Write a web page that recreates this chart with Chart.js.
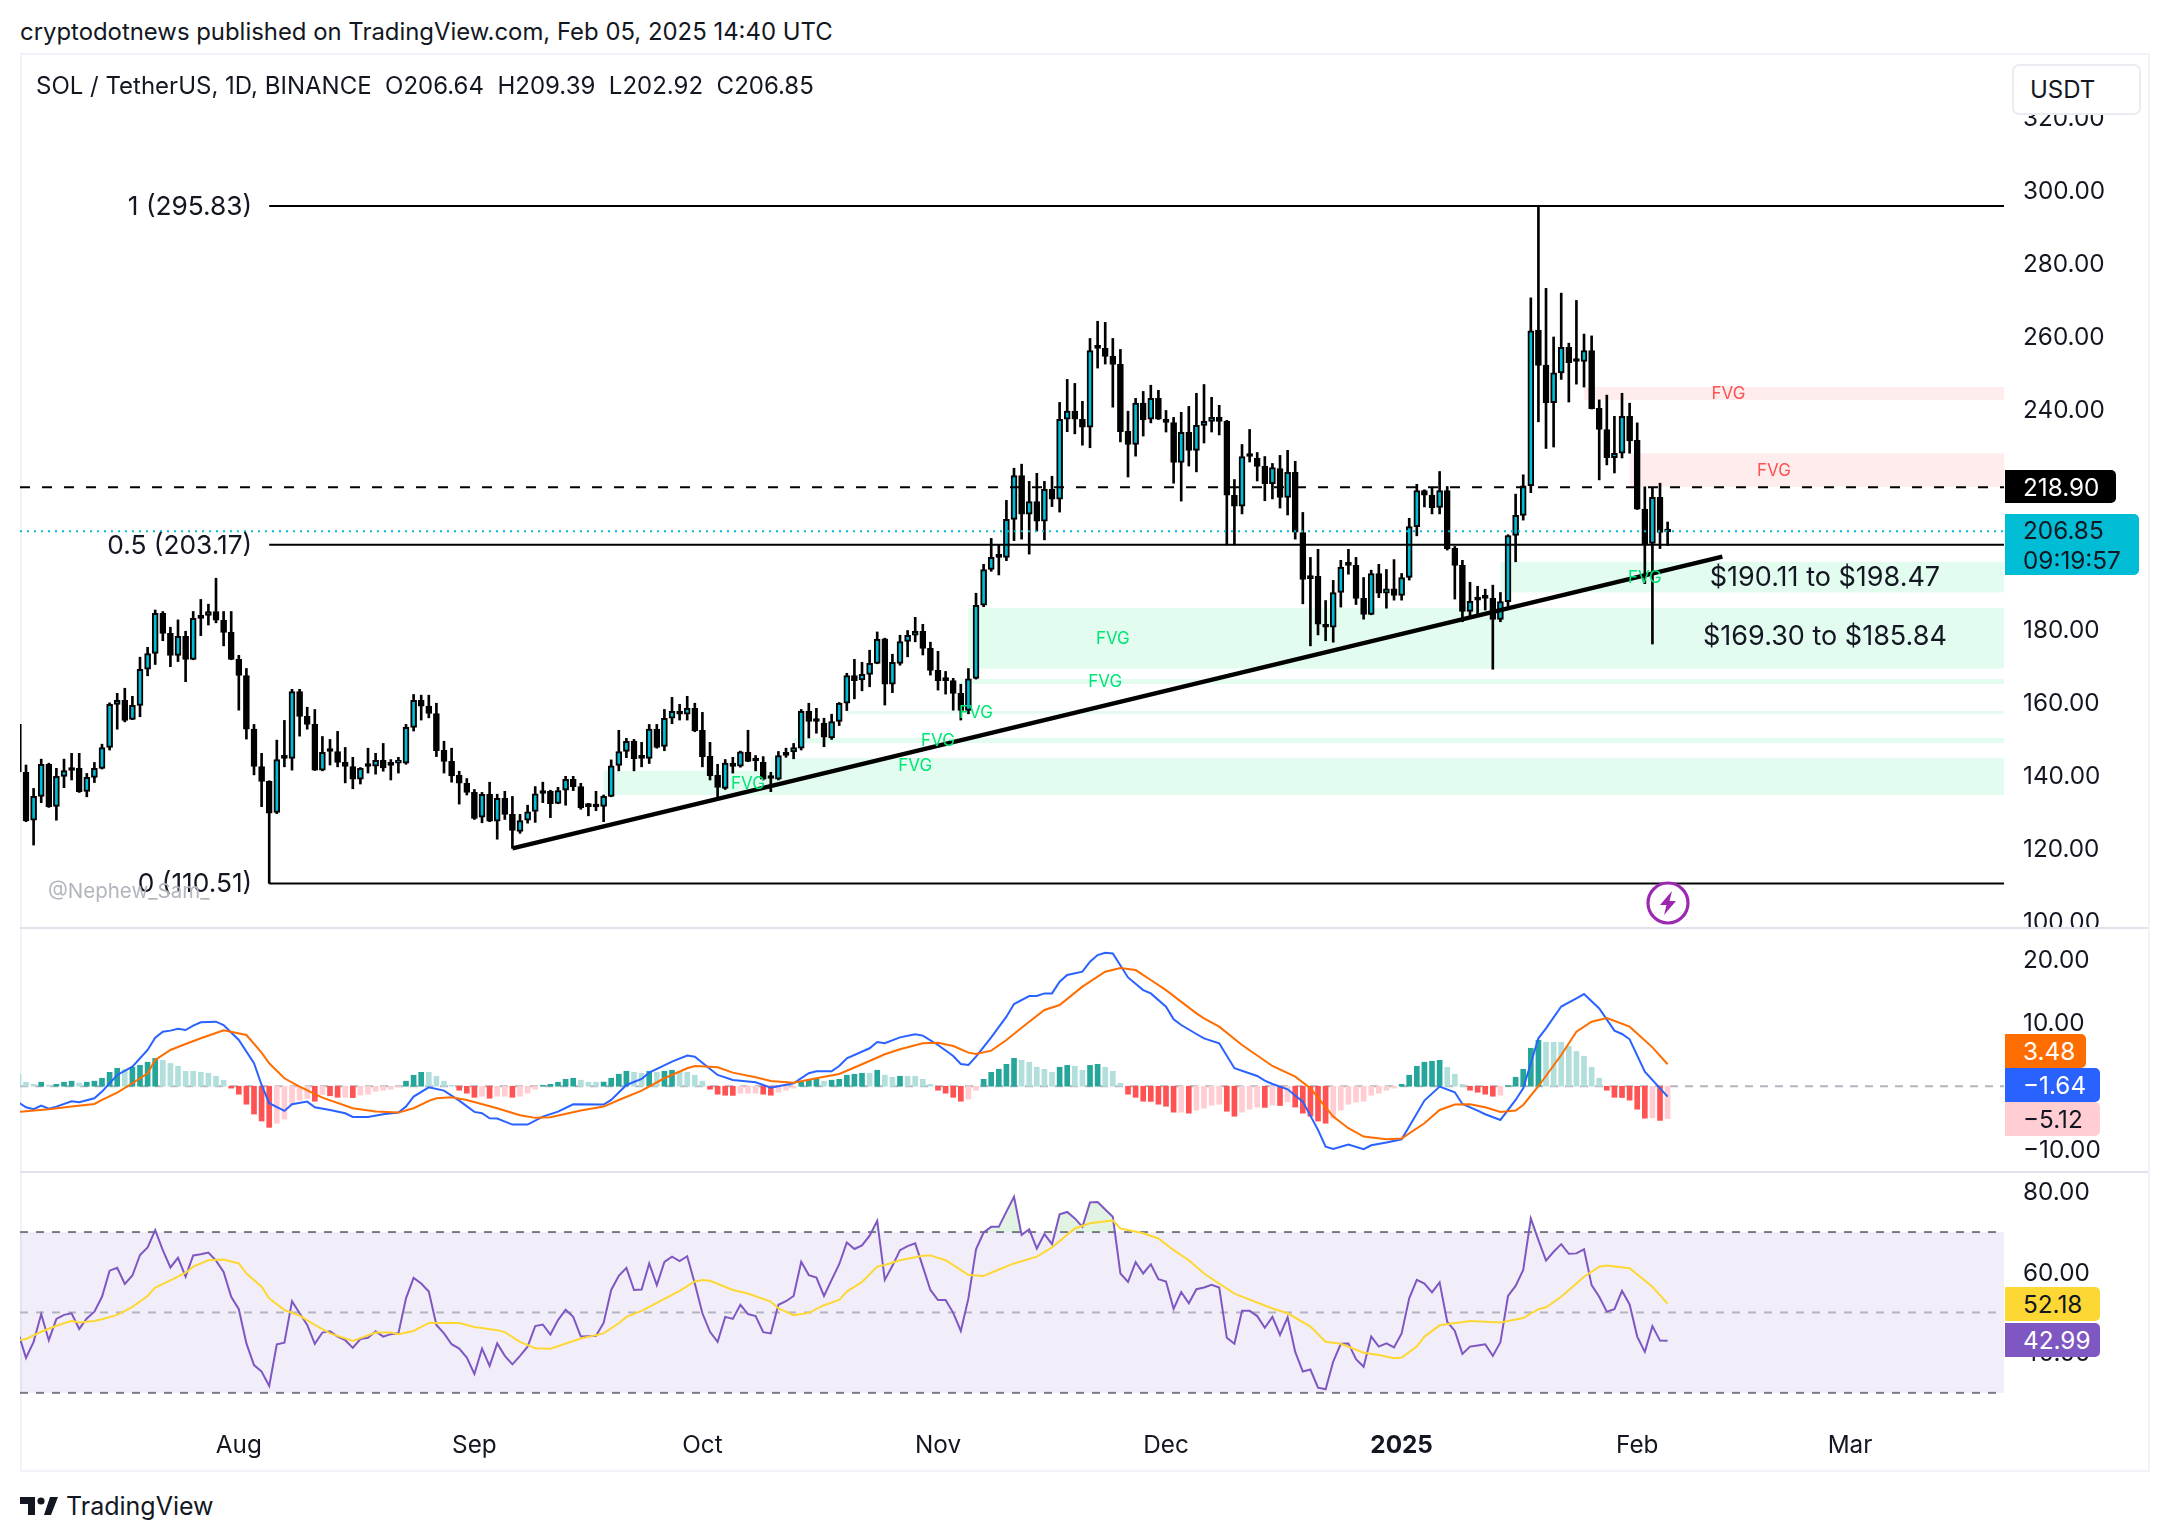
<!DOCTYPE html>
<html>
<head>
<meta charset="utf-8">
<title>SOL / TetherUS</title>
<script src="https://cdn.jsdelivr.net/npm/chart.js@4/dist/chart.umd.min.js"></script>
<style>
  html, body { margin: 0; background: #fff; }
  body { position: relative; width: 2168px; height: 1540px; overflow: hidden; font-family: Inter, sans-serif; color: #131722; }
  canvas { position: absolute; left: 20px; }
  .abs { position: absolute; white-space: pre; }
  .frame { position: absolute; left: 20px; top: 53px; width: 2126px; height: 1415px; border: 2px solid #F0F3FA; }
  .sep { position: absolute; left: 20px; width: 2128px; height: 2px; background: #E0E3EB; }
  .tag { position: absolute; left: 2005px; box-sizing: border-box; padding-left: 18px; font-size: 24.3px; border-radius: 0 5px 5px 0; display: flex; align-items: center; }
</style>
</head>
<body>
<div class="frame"></div>
<div class="sep" style="top:927px"></div>
<div class="sep" style="top:1171px"></div>
<canvas id="priceChart" width="2128" height="872" style="top:55px"></canvas>
<canvas id="macdChart" width="2128" height="241" style="top:930px"></canvas>
<canvas id="rsiChart" width="2128" height="297" style="top:1173px"></canvas>

<div class="abs" style="left:20px;top:17px;font-size:23.9px">cryptodotnews published on TradingView.com, Feb 05, 2025 14:40 UTC</div>
<div class="abs" style="left:36px;top:71px;font-size:24px">SOL / TetherUS, 1D, BINANCE  O206.64  H209.39  L202.92  C206.85</div>
<div class="abs" style="left:48px;top:878px;font-size:20.5px;color:#B2B5BE">@Nephew_Sam_</div>

<div class="abs" style="left:2012px;top:64px;width:125px;height:47px;background:#fff;border:2px solid #E9ECF2;border-radius:7px;font-size:24px;line-height:47px;text-indent:16px">USDT</div>
<div class="tag" style="top:470px;width:111px;height:33px;background:#000;color:#fff">218.90</div>
<div class="tag" style="top:514px;width:134px;height:61px;background:#00BCD4;display:block;line-height:30px;padding-top:1px">206.85<br>09:19:57</div>
<div class="tag" style="top:1034px;width:81px;height:34px;background:#FF6D00;color:#fff">3.48</div>
<div class="tag" style="top:1068px;width:95px;height:34px;background:#2962FF;color:#fff">−1.64</div>
<div class="tag" style="top:1102px;width:95px;height:34px;background:#FFCDD2">−5.12</div>
<div class="tag" style="top:1287px;width:95px;height:34px;background:#FDD835">52.18</div>
<div class="tag" style="top:1323px;width:95px;height:34px;background:#7E57C2;color:#fff">42.99</div>

<svg class="abs" style="left:1646px;top:881px" width="44" height="44" viewBox="0 0 44 44">
  <circle cx="22" cy="22" r="20" fill="#fff" stroke="#9C27B0" stroke-width="3.2"/>
  <path d="M26 10 L14 24 H20.5 L18 34 L30 20 H23.5 Z" fill="#9C27B0"/>
</svg>
<svg class="abs" style="left:20px;top:1496px" width="38" height="20" viewBox="0 0 38 20">
  <path d="M0 1 H15 V19 H8 V8 H0 Z M24 19 L30 1 H38 L31 19 Z" fill="#131722"/>
  <circle cx="21" cy="5" r="3.6" fill="#131722"/>
</svg>
<div class="abs" style="left:66px;top:1491px;font-size:25px">TradingView</div>

<script>
// Daily candles, Jul 3 2024 to Feb 5 2025 (index 0 = Jul 3)
const opens = [154.0,140.9,127.8,134.3,143.1,131.6,139.8,142.0,142.0,135.7,139.5,142.0,147.7,159.5,160.6,155.4,159.2,169.1,173.4,184.4,178.9,172.9,178.1,171.8,183.8,183.8,184.9,182.5,179.2,171.8,167.4,152.7,142.5,138.4,129.9,145.0,144.7,163.0,156.2,154.0,141.5,146.9,146.6,143.6,142.5,139.0,142.8,142.6,144.2,143.1,143.4,143.4,153.2,160.6,159.0,157.0,146.9,143.9,140.1,137.9,135.4,128.6,134.9,127.5,133.8,129.4,124.7,127.8,130.2,135.6,135.7,132.4,136.0,139.0,137.0,131.8,131.7,131.6,134.3,142.8,146.6,149.4,145.0,144.7,152.7,148.0,155.7,157.6,156.8,158.4,152.4,145.3,140.1,136.5,143.4,142.6,146.4,144.4,143.6,139.5,139.0,146.4,146.5,147.5,157.6,155.1,154.3,150.3,154.8,159.8,167.4,166.2,167.7,170.7,177.4,165.0,170.7,176.7,178.4,179.5,174.8,168.8,166.3,166.0,162.5,157.8,166.6,186.6,196.4,200.0,199.7,210.1,222.1,211.5,215.0,209.6,218.3,215.6,237.5,239.7,237.5,235.3,257.2,256.9,254.7,252.5,234.2,230.6,241.9,237.5,243.2,237.5,236.6,225.7,233.9,229.0,235.8,236.9,238.0,236.9,216.7,213.7,227.6,226.8,224.6,219.9,224.0,216.1,223.0,206.5,194.4,194.5,181.4,180.6,190.1,197.8,197.5,188.5,184.1,195.3,189.9,191.1,189.3,194.2,208.1,218.0,216.7,213.4,218.0,202.2,197.5,184.9,188.2,188.8,188.5,182.7,187.6,205.7,211.2,219.3,261.9,252.3,242.0,250.2,257.2,253.6,253.3,256.3,240.5,234.7,227.0,228.2,238.3,231.7,212.9,203.5,216.1,206.64];
const closes = [141.0,127.6,134.3,143.1,131.5,139.8,141.4,141.4,135.6,139.5,142.0,147.7,159.5,160.6,155.1,159.2,169.1,173.4,184.4,178.9,172.9,178.1,171.8,183.0,183.0,184.9,182.5,179.2,171.8,167.4,152.7,142.5,138.4,129.7,144.4,144.7,163.0,156.2,154.0,141.5,146.4,146.6,143.6,142.5,139.0,142.0,142.5,144.2,142.1,142.8,143.6,153.2,160.6,159.0,157.0,146.8,143.9,139.9,137.9,135.4,128.3,134.9,127.5,133.8,129.4,125.0,127.7,130.1,135.0,135.1,132.3,135.9,139.0,137.0,131.2,131.5,131.4,134.3,142.7,146.6,149.4,144.6,144.7,152.7,147.7,155.7,157.6,156.8,158.4,152.3,145.1,140.0,136.8,143.4,142.5,146.5,143.9,144.0,139.0,139.2,145.5,145.5,147.7,157.6,154.8,154.8,150.5,154.8,159.8,167.4,166.0,167.7,170.7,177.3,165.0,171.0,176.7,178.4,179.5,174.8,168.8,166.0,166.0,162.5,157.8,166.5,186.6,196.4,199.7,199.7,210.1,222.1,211.5,215.0,209.6,218.3,215.6,237.5,239.7,237.5,235.3,256.3,256.9,254.7,252.5,234.1,230.6,241.9,237.3,243.2,237.5,236.6,225.7,233.9,229.0,235.8,236.9,238.0,236.9,216.7,213.7,227.3,227.3,224.6,219.9,224.3,216.1,223.0,206.6,193.7,193.9,181.4,180.6,190.1,197.0,197.5,188.5,184.1,195.3,189.9,191.1,189.3,194.2,208.1,218.0,216.7,213.3,218.0,202.1,197.5,184.9,187.7,188.0,188.5,182.7,187.6,205.7,211.2,219.3,261.7,252.2,242.0,250.2,257.2,253.0,253.3,256.3,240.4,234.7,227.0,228.2,238.3,231.6,212.9,203.2,216.1,206.5,206.85];
const highs = [154.1,142.9,136.5,144.5,143.4,142.0,144.5,146.1,146.1,140.6,143.6,148.6,159.9,162.5,163.9,161.7,172.4,175.1,185.3,184.9,180.6,182.6,179.5,184.9,188.2,186.9,194.0,184.9,184.9,172.9,169.3,154.0,146.1,138.6,149.7,155.1,163.6,163.6,158.7,158.1,150.7,149.9,152.1,147.7,145.0,142.2,147.5,146.1,148.8,144.4,145.0,154.0,162.2,162.0,162.0,159.8,149.4,147.5,141.2,139.2,136.2,135.4,138.2,134.9,135.7,134.3,129.4,131.9,137.0,138.2,136.0,136.8,139.8,139.8,137.9,132.4,135.7,134.7,144.3,152.4,150.2,149.9,149.1,154.0,154.0,158.1,161.4,159.5,161.7,159.8,157.3,149.1,143.1,144.4,145.0,146.7,152.4,145.5,145.2,140.9,146.6,147.5,148.8,158.1,159.8,158.4,155.7,156.8,160.0,168.0,171.8,171.0,174.3,179.3,177.6,173.2,178.4,179.7,183.3,181.4,176.5,174.0,168.5,166.6,165.0,169.3,189.9,197.8,204.9,203.0,215.3,224.1,225.2,220.5,222.7,220.5,221.9,242.1,248.4,247.3,242.4,259.6,264.3,264.0,259.6,256.6,239.7,243.2,245.1,246.8,245.4,239.9,238.0,239.4,241.0,244.6,247.0,243.5,241.3,237.2,221.0,230.6,234.7,228.4,227.3,225.4,227.6,229.0,226.0,212.0,199.7,201.9,187.9,193.4,198.9,201.9,199.7,194.2,196.2,197.8,196.4,199.1,195.3,210.4,219.7,218.2,218.9,223.2,219.1,202.7,198.9,192.9,191.8,191.0,192.1,190.1,205.9,217.0,222.3,270.7,295.83,273.3,260.0,272.0,258.3,270.0,260.8,260.3,242.8,244.1,238.3,244.6,241.9,236.5,219.0,218.8,220.0,209.39];
const lows = [140.9,127.4,121.0,132.6,131.3,127.8,136.7,138.8,135.4,134.2,138.1,141.8,147.0,152.7,154.7,155.3,156.1,167.3,170.4,176.9,169.8,171.2,165.7,171.7,178.3,181.2,181.8,175.5,171.7,157.9,150.0,140.2,131.5,110.51,129.6,142.4,141.5,150.8,152.7,141.4,141.3,142.9,142.4,138.0,136.4,137.7,140.7,140.4,141.2,138.8,140.7,143.1,152.2,155.2,155.8,145.2,140.7,138.2,132.2,134.7,128.0,127.1,127.4,122.6,128.0,120.1,124.2,127.0,127.2,132.6,128.5,132.3,131.9,135.9,130.8,129.0,130.4,127.4,134.2,141.3,144.9,141.3,142.4,143.3,147.5,146.8,154.2,155.2,155.2,152.0,142.4,138.8,134.0,136.2,140.7,142.3,143.8,141.3,138.8,135.6,138.8,145.0,144.6,147.0,150.3,151.6,147.9,149.9,153.7,157.8,161.0,163.2,164.3,170.6,159.3,162.7,170.2,172.5,176.6,173.0,167.5,163.4,162.3,157.9,155.2,156.9,166.4,186.2,195.9,194.9,198.8,204.3,204.7,200.6,206.9,204.5,213.6,212.1,234.1,233.5,230.4,229.7,251.5,252.6,240.8,231.3,221.7,227.4,232.9,236.5,237.4,234.0,220.0,215.1,224.7,223.1,231.0,234.0,233.2,203.1,203.1,211.6,225.8,220.6,215.2,215.7,213.2,211.3,204.7,187.0,175.5,178.5,176.9,176.5,186.1,195.1,186.8,182.8,184.0,188.7,185.8,188.0,188.0,193.5,205.6,213.5,211.6,211.6,201.7,188.3,182.1,183.5,184.1,185.3,169.1,182.1,186.2,198.5,209.9,217.4,236.8,229.5,229.9,248.4,242.2,247.1,246.3,240.3,220.9,225.0,222.8,226.9,228.2,212.8,192.5,176.0,202.1,202.92];

// MACD histogram, one value per day
const macdHist = [1.9,0.63,0.3,0.63,0.2,0.3,0.63,0.8,0.5,0.63,0.8,1.26,2.2,2.84,2.63,3.0,3.3,3.8,4.4,4.1,3.6,3.16,2.37,2.37,2.2,2.05,1.58,0.95,-0.3,-1.26,-2.84,-4.4,-5.5,-6.5,-5.85,-5.2,-2.9,-2.2,-1.95,-2.37,-1.3,-1.5,-1.75,-1.75,-1.8,-1.4,-1.26,-0.8,-0.63,-0.47,-0.1,0.8,1.74,2.2,2.2,1.58,0.8,0.15,-0.63,-1.1,-1.75,-1.58,-1.9,-1.58,-1.58,-1.75,-1.58,-1.1,-0.47,0.15,0.3,0.63,1.1,1.26,0.95,0.63,0.63,0.65,1.26,1.9,2.37,2.2,2.05,2.37,2.2,2.37,2.53,2.37,2.2,1.74,0.8,-0.47,-1.26,-1.42,-1.45,-1.1,-1.1,-1.1,-1.26,-1.42,-0.95,-0.63,-0.3,0.63,0.95,1.1,0.8,0.95,1.1,1.74,1.9,2.05,2.05,2.53,1.74,1.42,1.58,1.58,1.58,1.1,0.3,-0.63,-1.1,-1.75,-2.37,-2.05,-0.63,1.1,2.2,2.68,3.47,4.42,4.1,3.8,3.0,2.68,2.2,3.0,3.3,3.16,2.53,3.3,3.47,3.0,2.37,0.47,-1.26,-1.75,-2.37,-2.4,-2.84,-3.16,-4.1,-4.1,-4.26,-3.8,-3.47,-3.0,-2.84,-3.95,-4.74,-4.1,-3.63,-3.3,-3.35,-3.0,-3.05,-2.5,-3.3,-4.26,-4.74,-5.5,-5.85,-5.05,-3.8,-2.84,-2.5,-2.37,-1.42,-1.1,-0.63,-0.3,0.3,1.74,3.16,3.8,3.95,4.1,3.0,1.9,0.3,-0.63,-0.95,-1.26,-1.58,-1.42,0.1,1.42,2.68,6.0,7.27,6.95,6.95,6.95,6.3,5.5,4.74,3.0,1.26,-0.63,-1.75,-1.78,-2.2,-3.63,-5.05,-5.0,-5.4,-5.12];

// MACD and signal lines, read at their turning points
const macdDays = [0,1,2,3,4,5,7,8,10,11,13,15,17,18,19,20,21,22,23,24,26,27,29,31,32,33,35,36,38,39,41,43,44,46,48,50,51,52,54,56,58,60,61,62,63,65,67,69,71,73,77,78,80,82,83,86,88,89,92,94,97,99,102,104,105,107,108,109,112,113,114,116,118,119,121,123,124,125,126,128,130,131,133,134,135,136,137,138,140,141,142,143,144,146,148,149,151,152,153,155,156,158,160,163,164,165,167,169,171,172,173,175,177,178,180,182,183,185,187,189,190,192,193,195,197,198,200,201,203,205,206,208,210,211,212,214,217];
const macdLine = [-2.54,-3.33,-3.64,-3.06,-3.54,-3.22,-2.38,-2.54,-1.9,-0.85,1.78,3.1,5.73,7.68,8.63,8.79,9.1,8.89,9.58,10.1,10.21,9.68,7.31,3.63,0.2,-2.69,-3.9,-2.85,-2.43,-3.33,-3.75,-4.27,-4.85,-4.85,-4.43,-4.17,-3.22,-1.64,-0.17,-0.69,-2.27,-4.06,-4.27,-5.06,-5.11,-6.06,-6.06,-4.8,-4.01,-2.85,-2.9,-2.17,0.2,1.15,2.15,3.89,4.84,4.68,1.78,1.0,0.62,-0.22,0.47,2.05,2.36,2.36,3.2,4.42,6.0,7.0,6.79,7.73,8.2,8.0,6.52,4.78,3.52,3.36,4.68,7.73,11.0,13.0,14.26,14.26,14.68,14.68,16.53,17.58,18.11,19.69,20.74,21.11,21.0,17.2,15.2,14.68,12.58,10.58,9.68,8.26,7.57,6.78,2.84,1.62,0.89,0.36,-0.48,-2.43,-6.9,-9.54,-9.9,-9.22,-9.96,-9.33,-8.9,-8.38,-6.38,-2.27,-0.06,-0.96,-2.8,-3.85,-4.43,-5.33,-2.17,-0.32,7.58,9.16,12.6,13.9,14.58,12.3,8.79,8.26,7.42,2.31,-1.64];
const signalDays = [0,4,7,10,11,13,15,17,18,20,22,24,26,27,30,32,33,35,37,40,44,47,50,52,54,55,57,59,63,66,68,70,74,77,79,82,85,88,89,91,92,94,97,99,102,105,108,111,114,116,119,121,123,125,126,128,130,133,135,137,140,143,145,147,149,151,155,156,158,161,165,168,170,173,175,177,180,182,185,187,189,191,193,195,197,198,200,203,205,207,209,212,215,217];
const signalLine = [-4.06,-3.64,-3.22,-2.8,-2.17,-1.0,0.47,2.05,4.15,5.73,6.68,7.58,8.42,8.84,8.1,5.31,3.63,1.26,-0.06,-1.8,-3.48,-4.0,-4.17,-3.48,-2.32,-1.9,-1.74,-2.17,-3.48,-4.59,-5.0,-4.9,-3.85,-3.22,-2.17,-0.69,1.26,2.84,3.2,3.1,3.0,2.15,1.42,0.83,0.57,1.26,1.94,3.47,5.05,5.84,6.78,6.89,6.36,5.31,5.1,5.63,7.31,10.2,12.05,12.84,15.74,18.1,18.69,18.37,16.8,15.2,11.52,10.73,9.42,6.52,3.2,1.52,-0.32,-4.8,-6.64,-7.96,-8.38,-8.27,-5.85,-3.75,-2.9,-2.85,-3.33,-4.06,-3.85,-2.96,0.0,4.94,8.63,10.2,10.79,9.42,6.15,3.48];

// RSI, one value per day, and its moving average read at turning points
const rsiValues = [44.8,38.7,42.7,49.6,43.1,48.4,49.4,49.8,45.9,48.5,50.2,53.9,60.4,61.1,57.1,59.2,64.3,66.2,70.5,65.5,61.2,63.6,58.9,64.2,64.5,64.9,62.9,60.1,53.9,50.8,42.3,36.9,35.3,31.7,42.1,42.5,52.8,49.8,46.9,42.2,45.0,45.3,44.0,43.1,41.2,43.4,43.7,45.3,44.0,44.6,44.8,53.5,58.6,57.2,55.2,46.9,44.8,42.1,41.0,38.8,34.7,41.0,36.7,42.3,39.2,37.1,39.2,41.5,46.6,47.0,44.5,48.1,50.7,48.9,44.0,44.1,44.2,47.4,55.6,59.1,61.1,55.6,55.7,62.2,56.8,62.6,63.9,62.8,64.0,57.2,49.8,45.2,42.7,48.9,48.4,51.9,49.6,49.1,45.1,44.8,51.9,52.8,54.1,62.6,59.3,58.7,54.1,58.1,62.0,67.4,65.8,66.7,69.1,72.8,58.1,61.6,65.5,66.5,67.2,61.4,55.6,53.1,53.1,49.9,45.4,53.5,65.7,69.9,71.3,71.3,75.1,78.8,69.3,70.7,65.9,69.5,67.0,74.4,75.0,73.4,71.3,77.4,77.5,75.6,73.8,59.7,57.6,62.5,59.7,62.0,58.3,57.7,50.9,55.1,52.3,55.8,56.2,56.9,56.2,43.7,42.2,50.4,50.4,49.1,46.2,48.9,44.4,48.8,40.2,35.3,35.8,31.3,30.9,37.8,42.2,42.3,38.4,36.5,44.0,41.5,42.3,41.3,44.8,53.5,58.1,57.2,55.0,57.5,47.7,45.4,39.7,41.5,41.8,42.1,39.2,42.6,54.1,56.6,60.6,73.4,68.0,62.9,65.1,67.0,64.6,64.7,65.7,56.8,53.9,50.2,50.8,55.4,52.0,44.0,40.2,46.6,43.0,42.99];
const rsiMaDays = [0,1,3,5,7,8,10,11,13,15,17,18,20,22,23,25,27,29,30,32,33,35,37,39,41,44,45,47,49,50,52,54,58,60,63,64,66,68,70,74,77,79,80,82,84,87,89,90,91,94,96,99,100,102,104,106,108,109,111,113,114,116,119,120,122,124,125,127,129,131,134,136,139,141,144,145,148,150,152,154,156,160,165,167,170,172,174,177,179,181,182,184,185,187,191,195,198,200,201,203,206,208,209,212,215,217];
const rsiMaValues = [43.1,43.4,45.2,46.7,47.9,47.5,47.9,48.3,49.4,51.4,54.1,56.2,58.0,59.9,61.4,63.0,63.2,62.2,59.7,56.4,53.5,50.6,49.2,46.9,44.8,42.9,43.6,45.0,45.0,44.6,45.4,47.4,47.4,46.4,45.6,45.1,42.7,41.1,41.0,43.5,44.8,47.3,48.9,50.4,52.4,55.4,57.7,58.1,57.9,55.6,54.7,52.7,51.0,49.3,49.9,51.8,53.1,55.2,57.6,61.4,61.8,63.0,64.1,64.2,63.0,60.6,59.3,59.1,60.7,62.2,63.9,66.2,70.9,72.2,72.9,70.9,69.7,68.4,65.5,63.0,59.7,54.7,51.0,49.8,46.5,42.7,42.2,40.0,39.4,38.6,38.8,41.5,44.0,46.8,47.9,47.5,48.6,50.8,51.3,53.9,58.9,61.4,61.7,61.0,56.4,52.18];

// Axis ticks
const priceTicks = [100,120,140,160,180,200,220,240,260,280,300,320];
const macdTicks = [-10,0,10,20];
const rsiTicks = [40,60,80];
const monthDays = [29,60,90,121,151,182,213,241];
const monthLabels = ['Aug','Sep','Oct','Nov','Dec','2025','Feb','Mar'];

// Drawn levels
const fibLabels = ['1 (295.83)','0.5 (203.17)','0 (110.51)'];
const fibLevels = [295.83,203.17,110.51];
const fibStartDay = 33;
const resistanceLevel = 218.90;
const lastPrice = 206.85;
const trendDays = [65,224.2];
const trendPrices = [120.1,199.9];

// Fair value gaps
const fvgStart = [195,125,124,109,102,77,99,206,212];
const fvgLow = [190.11,169.30,165.1,156.9,148.9,134.7,141.3,242.8,219.0];
const fvgHigh = [198.47,185.84,166.4,157.7,150.3,141.3,144.8,246.3,228.2];
const fvgBear = [false,false,false,false,false,false,false,true,true];
const fvgTextDays = [144,143,126,121,118,96,214,225,231];
const fvgTextPrices = [177.6,165.9,157.4,149.7,142.9,138.0,194.3,244.7,223.6];
const fvgTextBear = [false,false,false,false,false,false,false,true,true];
const zoneLabels = ['$190.11 to $198.47','$169.30 to $185.84'];
const zonePrices = [194.3,178.1];
const zoneDay = 237.7;

const xMin = 0.21, xMax = 261.26;
const font = 'Inter, sans-serif';
const days = opens.map((v, i) => i);

function pts(xs, ys) {
  return xs.map((x, i) => ({ x: x, y: ys[i] }));
}
function flat(from, to, y) {
  return [{ x: from, y: y }, { x: to, y: y }];
}
function lineSet(data, color, width, order, dash) {
  return { type: 'line', data: data, borderColor: color, borderWidth: width, borderDash: dash || [], pointRadius: 0, tension: 0, order: order, fill: false };
}

function xScale(show) {
  return {
    type: 'linear', display: show, min: xMin, max: xMax, offset: false,
    grid: { display: false, drawTicks: false }, border: { display: false },
    afterBuildTicks: s => { s.ticks = monthDays.map(d => ({ value: d })); },
    afterFit: s => { s.height = show ? 45 : 0; s.paddingLeft = 0; s.paddingRight = 0; },
    ticks: {
      autoSkip: false, maxRotation: 0, padding: 6, color: '#131722',
      font: c => ({ family: font, size: 24.3, weight: c.tick && c.tick.value === 182 ? 'bold' : 'normal' }),
      callback: v => monthLabels[monthDays.indexOf(v)]
    }
  };
}
function yScale(min, max, ticks) {
  return {
    position: 'right', min: min, max: max,
    grid: { display: false, drawTicks: false }, border: { display: false },
    afterBuildTicks: s => { s.ticks = ticks.map(v => ({ value: v })); },
    afterFit: s => { s.width = 144; s.paddingTop = 0; s.paddingBottom = 0; },
    ticks: {
      autoSkip: false, padding: 19, labelOffset: 1, color: '#131722', font: { family: font, size: 24.3 },
      callback: v => v.toFixed(2).replace('-', '−')
    }
  };
}
function baseOptions(ymin, ymax, ticks, showX) {
  return {
    responsive: false, animation: false, events: [],
    layout: { padding: 0 },
    plugins: { legend: { display: false }, tooltip: { enabled: false } },
    scales: { x: xScale(showX), y: yScale(ymin, ymax, ticks) }
  };
}

// Gap boxes go under the candles, their labels and the fib labels above
const priceOverlay = {
  id: 'priceOverlay',
  beforeDatasetsDraw(chart) {
    const { ctx, scales: { x, y }, chartArea } = chart;
    ctx.save();
    fvgStart.forEach((d, i) => {
      const top = y.getPixelForValue(fvgHigh[i]);
      const bottom = y.getPixelForValue(fvgLow[i]);
      const left = x.getPixelForValue(d);
      ctx.fillStyle = fvgBear[i] ? 'rgba(255,82,82,0.11)' : 'rgba(0,230,118,0.11)';
      ctx.fillRect(left, top, chartArea.right - left, bottom - top);
    });
    ctx.restore();
  },
  afterDatasetsDraw(chart) {
    const { ctx, scales: { x, y } } = chart;
    ctx.save();
    ctx.textBaseline = 'middle';
    ctx.textAlign = 'center';
    ctx.font = '17px ' + font;
    fvgTextDays.forEach((d, i) => {
      ctx.fillStyle = fvgTextBear[i] ? '#FF5252' : '#00E676';
      ctx.fillText('FVG', x.getPixelForValue(d), y.getPixelForValue(fvgTextPrices[i]) + 1);
    });
    ctx.font = '27px ' + font;
    ctx.fillStyle = '#131722';
    zoneLabels.forEach((t, i) => {
      ctx.fillText(t, x.getPixelForValue(zoneDay), y.getPixelForValue(zonePrices[i]) + 1);
    });
    ctx.font = '26.3px ' + font;
    ctx.textAlign = 'right';
    fibLabels.forEach((t, i) => {
      ctx.fillText(t, x.getPixelForValue(fibStartDay) - 17, y.getPixelForValue(fibLevels[i]) + 1);
    });
    ctx.restore();
  }
};

// Wicks and bodies are floating bars on the same x position
new Chart(document.getElementById('priceChart'), {
  type: 'bar',
  data: {
    datasets: [
      {
        data: days.map(i => ({ x: i, y: [lows[i], highs[i]] })),
        backgroundColor: '#000', barThickness: 2, grouped: false, order: 6
      },
      {
        data: days.map(i => ({ x: i, y: [opens[i], closes[i]] })),
        backgroundColor: days.map(i => closes[i] >= opens[i] ? '#00BCD4' : '#000'),
        borderColor: '#000', borderWidth: 2, borderSkipped: false,
        barThickness: 6, minBarLength: 3, grouped: false, order: 5
      },
      lineSet(flat(xMin, xMax, lastPrice), '#00BCD4', 2, 4, [2, 5]),
      lineSet(flat(xMin, xMax, resistanceLevel), '#000', 2, 3, [10, 12]),
      ...fibLevels.map(v => lineSet(flat(fibStartDay, xMax, v), '#000', 2, 2)),
      lineSet(pts(trendDays, trendPrices), '#000', 4.5, 1)
    ]
  },
  options: baseOptions(98.58, 337.15, priceTicks, false),
  plugins: [priceOverlay]
});

// MACD pane
new Chart(document.getElementById('macdChart'), {
  type: 'bar',
  data: {
    datasets: [
      lineSet(flat(xMin, xMax, 0), '#B2B5BE', 2, 5, [8, 7]),
      {
        data: days.map(i => ({ x: i, y: macdHist[i] })),
        backgroundColor: days.map(i => {
          const v = macdHist[i], prev = i ? macdHist[i - 1] : v;
          if (v >= 0) return v > prev ? '#26A69A' : '#B2DFDB';
          return v < prev ? '#FF5252' : '#FFCDD2';
        }),
        barThickness: 5, grouped: false, order: 4
      },
      lineSet(pts(macdDays, macdLine), '#2962FF', 2, 2),
      lineSet(pts(signalDays, signalLine), '#FF6D00', 2, 1)
    ]
  },
  options: baseOptions(-13.4, 24.7, macdTicks, false)
});

// RSI pane
const rsiBand = {
  id: 'rsiBand',
  beforeDatasetsDraw(chart) {
    const { ctx, scales: { y }, chartArea } = chart;
    const top = y.getPixelForValue(70), bottom = y.getPixelForValue(30);
    ctx.save();
    ctx.fillStyle = 'rgba(126,87,194,0.1)';
    ctx.fillRect(chartArea.left, top, chartArea.right - chartArea.left, bottom - top);
    ctx.restore();
  }
};
const rsiSet = lineSet(pts(days, rsiValues), '#7E57C2', 2, 2);
rsiSet.fill = { target: { value: 70 }, above: 'rgba(76,175,80,0.16)', below: 'rgba(0,0,0,0)' };

new Chart(document.getElementById('rsiChart'), {
  type: 'line',
  data: {
    datasets: [
      lineSet(flat(xMin, xMax, 70), '#787B86', 2, 5, [8, 8]),
      lineSet(flat(xMin, xMax, 50), '#B2B5BE', 2, 5, [8, 8]),
      lineSet(flat(xMin, xMax, 30), '#787B86', 2, 5, [8, 8]),
      rsiSet,
      lineSet(pts(rsiMaDays, rsiMaValues), '#FDD835', 2, 1)
    ]
  },
  options: baseOptions(22, 84.7, rsiTicks, true),
  plugins: [rsiBand]
});
</script>
</body>
</html>
